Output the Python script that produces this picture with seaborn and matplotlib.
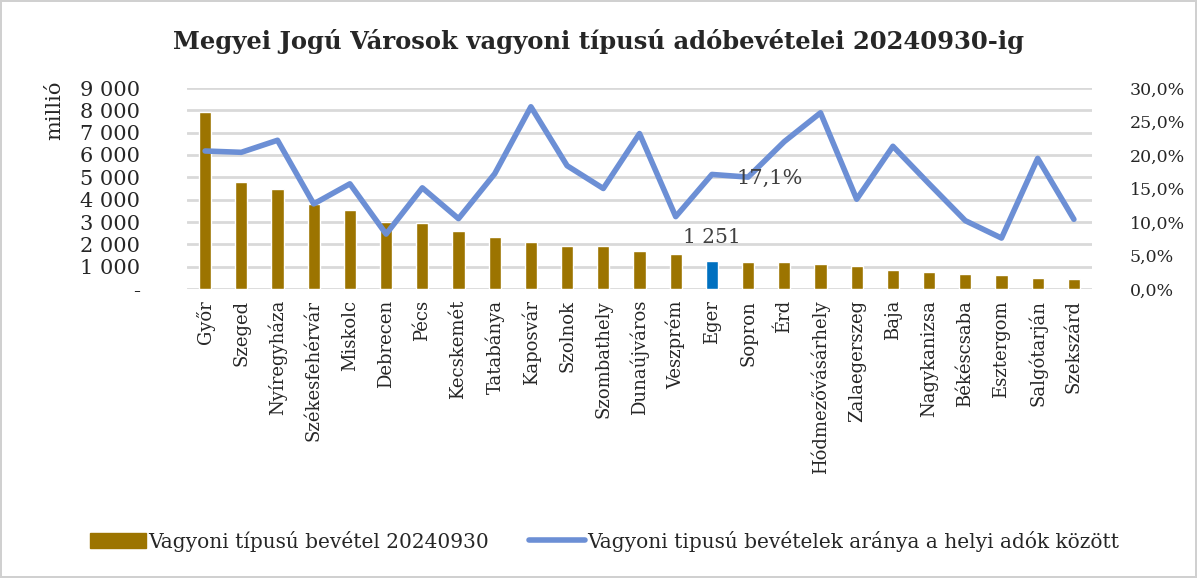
import numpy as np
import pandas as pd
import matplotlib
matplotlib.use("Agg")
import matplotlib.pyplot as plt
import seaborn as sns
from matplotlib.ticker import FuncFormatter, MultipleLocator
from matplotlib.lines import Line2D
from matplotlib.patches import Patch

cities = ["Győr", "Szeged", "Nyíregyháza", "Székesfehérvár", "Miskolc", "Debrecen",
          "Pécs", "Kecskemét", "Tatabánya", "Kaposvár", "Szolnok", "Szombathely",
          "Dunaújváros", "Veszprém", "Eger", "Sopron", "Érd", "Hódmezővásárhely",
          "Zalaegerszeg", "Baja", "Nagykanizsa", "Békéscsaba", "Esztergom",
          "Salgótarján", "Szekszárd"]
revenue = [7930, 4770, 4490, 3790, 3550, 2980, 2970, 2590, 2330, 2100, 1940, 1940,
           1690, 1570, 1251, 1220, 1210, 1100, 1050, 870, 750, 680, 620, 510, 440]
share = [20.6, 20.4, 22.2, 12.7, 15.7, 8.2, 15.1, 10.5, 17.2, 27.2, 18.4, 15.0,
         23.2, 10.8, 17.1, 16.7, 22.0, 26.3, 13.4, 21.3, 15.7, 10.2, 7.6, 19.5, 10.4]
highlight = "Eger"

bar_label = "Vagyoni típusú bevétel 20240930"
line_label = "Vagyoni tipusú bevételek aránya a helyi adók között"
title = "Megyei Jogú Városok vagyoni típusú adóbevételei 20240930-ig"

sns.set_theme(style="white")
plt.rcParams["font.family"] = ["DejaVu Serif", "DejaVu Sans"]

gold = "#9C7400"
blue_bar = "#0070C0"
line_col = "#6C8FD5"
grid_col = "#D9D9D9"

df = pd.DataFrame({"city": cities, "revenue": revenue,
                   "share": np.array(share) / 100.0,
                   "idx": np.arange(len(cities))})
df["grp"] = np.where(df["city"] == highlight, "hl", "base")

fig = plt.figure(figsize=(11.97, 5.78), dpi=100)
fig.patch.set_edgecolor("#D0D0D0")
fig.patch.set_linewidth(1.5)
ax = fig.add_axes([187 / 1197, 1 - 289 / 578, (1092 - 187) / 1197, (289 - 88) / 578])

sns.barplot(data=df, x="city", y="revenue", hue="grp",
            palette={"base": gold, "hl": blue_bar}, order=cities,
            width=0.34, legend=False, ax=ax, saturation=1, dodge=False)
ax.set_ylim(0, 9000)
ax.set_xlim(-0.5, len(cities) - 0.5)
ax.yaxis.set_major_locator(MultipleLocator(1000))
ax.yaxis.set_major_formatter(FuncFormatter(
    lambda v, p: "-" if v == 0 else f"{int(v):,}".replace(",", " ")))
ax.grid(axis="y", color=grid_col, linewidth=2)
ax.set_axisbelow(True)
for s in ax.spines.values():
    s.set_visible(False)
ax.set_xlabel("")
ax.set_ylabel("")
ax.tick_params(axis="y", labelsize=15, pad=34, length=0)
ax.tick_params(axis="x", labelsize=13, rotation=90, length=0, pad=8)

ax2 = ax.twinx()
sns.lineplot(data=df, x="idx", y="share", color=line_col, linewidth=4,
             sort=False, ax=ax2, legend=False)
ax2.set_ylim(0, 0.30)
ax2.set_xlim(-0.5, len(cities) - 0.5)
ax2.yaxis.set_major_locator(MultipleLocator(0.05))
ax2.yaxis.set_major_formatter(FuncFormatter(lambda v, p: f"{v*100:.1f}%".replace(".", ",")))
ax2.tick_params(axis="y", labelsize=12.5, length=0, pad=27)
ax2.set_ylabel("")
ax2.set_xlabel("")
for s in ax2.spines.values():
    s.set_visible(False)
ax2.grid(False)

hi = cities.index(highlight)
ax.annotate(f"{revenue[hi]:,}".replace(",", " "), (hi, revenue[hi]),
            xytext=(0, 10), textcoords="offset points", ha="center", va="bottom",
            fontsize=14.5, color="#404040")
ax2.annotate(f"{share[hi]:.1f}%".replace(".", ","), (hi, share[hi] / 100),
             xytext=(18, -3), textcoords="offset points", ha="left", va="center",
             fontsize=15, color="#404040")

fig.text(55 / 1197, 1 - 110 / 578, "millió", rotation=90, fontsize=15,
         ha="center", va="center")
fig.text(0.5, 1 - 42 / 578, title, fontsize=17.5, fontweight="bold",
         ha="center", va="center")

handles = [Patch(facecolor=gold, edgecolor=gold),
           Line2D([0], [0], color=line_col, linewidth=4)]
fig.legend(handles, [bar_label, line_label], loc="center",
           bbox_to_anchor=(0.505, 1 - 541 / 578), ncol=2, frameon=False,
           handlelength=2.8, handletextpad=0.1, columnspacing=2.0,
           prop={"family": "DejaVu Serif", "size": 14.5})

fig.savefig("out.png", dpi=100, edgecolor=fig.get_edgecolor())
